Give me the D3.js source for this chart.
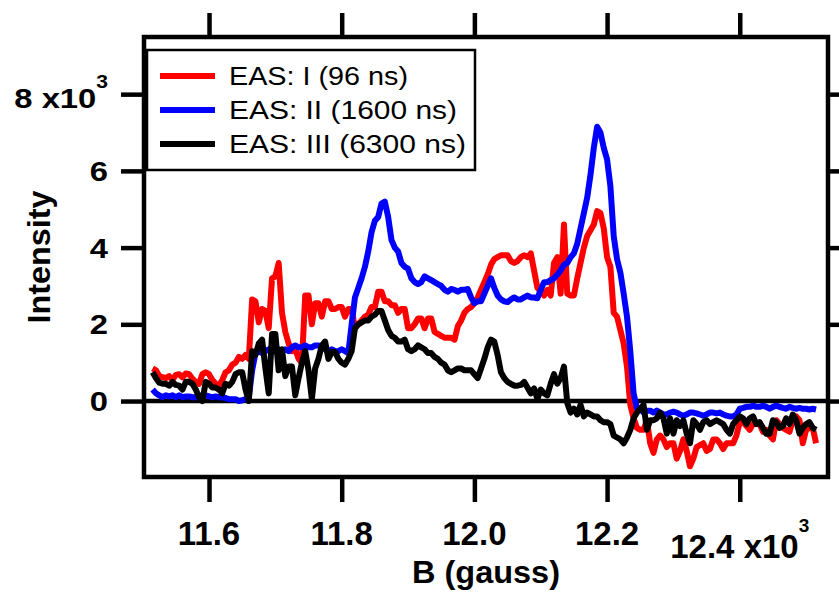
<!DOCTYPE html>
<html>
<head>
<meta charset="utf-8">
<script src="https://cdn.jsdelivr.net/npm/d3@7"></script>
<style>
  html, body { margin: 0; padding: 0; background: #fff; }
  svg { display: block; font-family: "Liberation Sans", Arial, Helvetica, sans-serif; }
</style>
</head>
<body>
<svg id="chart" width="839" height="593"></svg>
<script>
// field grid, in 10^3 gauss
const B0 = 11.515;
const dB = 0.005;

// intensities, in units of 10^3
const easI = [
    0.85, 0.8, 0.65, 0.62, 0.6, 0.65, 0.55, 0.68, 0.7, 0.62,
    0.72, 0.7, 0.58, 0.5, 0.45, 0.7, 0.75, 0.7, 0.55, 0.45,
    0.4, 0.55, 0.75, 0.8, 0.95, 1.0, 1.15, 1.1, 1.2, 1.1,
    2.65, 2.6, 2.05, 2.4, 2.35, 1.9, 3.2, 3.25, 3.6, 2.3,
    1.8, 1.5, 1.3, 1.35, 1.1, 1.0, 2.75, 2.75, 2.0, 2.55,
    2.55, 2.2, 2.6, 2.6, 2.4, 2.4, 2.45, 2.45, 2.2, 2.4,
    2.4, 1.9, 2.0, 2.1, 2.2, 2.25, 2.45, 2.45, 2.85, 2.85,
    2.6, 2.6, 2.5, 2.5, 2.3, 2.4, 2.4, 1.9, 1.9, 2.0,
    2.15, 2.15, 1.9, 2.15, 2.15, 1.8, 1.75, 1.7, 1.65, 1.65,
    1.65, 1.6, 1.95, 2.1, 2.3, 2.4, 2.45, 2.55, 2.7, 2.9,
    3.1, 3.3, 3.55, 3.7, 3.75, 3.8, 3.8, 3.8, 3.65, 3.6,
    3.65, 3.75, 3.8, 3.75, 3.85, 3.4, 2.95, 2.85, 2.75, 2.9,
    2.75, 3.6, 3.75, 2.8, 4.6, 2.8, 2.75, 2.75, 3.2, 3.6,
    4.0, 4.3, 4.45, 4.6, 4.95, 4.9, 4.5, 3.75, 3.5, 2.3,
    2.2, 1.85, 1.5, 0.9, -0.1, -0.45, -0.7, -0.75, -0.75, -0.5,
    -1.1, -1.35, -1.0, -0.9, -1.0, -1.2, -1.1, -1.1, -1.5, -1.3,
    -1.0, -1.3, -1.7, -1.5, -1.2, -1.15, -1.1, -1.3, -1.25, -1.0,
    -1.0, -1.1, -1.25, -1.1, -1.1, -1.1, -0.9, -0.55, -0.55, -0.65,
    -0.75, -0.6, -0.6, -0.6, -0.8, -0.75, -0.9, -1.0, -0.5, -0.6,
    -0.7, -0.75, -0.8, -0.5, -0.4, -0.5, -1.1, -0.75, -0.7, -0.7,
    -1.1
];
const easII = [
    0.3, 0.2, 0.15, 0.1, 0.15, 0.12, 0.15, 0.1, 0.15, 0.1,
    0.12, 0.12, 0.1, 0.1, 0.15, 0.12, 0.15, 0.12, 0.1, 0.12,
    0.1, 0.1, 0.08, 0.05, 0.05, 0.05, 0.0, 0.02, 0.05, 0.1,
    0.8, 1.25, 1.3, 1.25, 1.3, 1.35, 1.3, 1.3, 1.35, 1.3,
    1.35, 1.3, 1.4, 1.45, 1.4, 1.4, 1.45, 1.4, 1.4, 1.45,
    1.45, 1.4, 1.35, 1.3, 1.35, 1.3, 1.3, 1.35, 1.3, 1.25,
    2.0, 2.7, 2.95, 3.2, 3.5, 3.9, 4.4, 4.7, 4.8, 5.15,
    5.2, 4.8, 4.2, 4.0, 3.9, 3.6, 3.5, 3.45, 3.2, 3.1,
    3.05, 3.1, 3.25, 3.2, 3.15, 3.1, 3.05, 3.0, 2.9, 2.85,
    2.92, 2.9, 2.85, 2.9, 2.9, 2.92, 2.7, 2.55, 2.6, 2.6,
    2.8, 3.0, 3.2, 2.95, 2.75, 2.65, 2.6, 2.58, 2.65, 2.7,
    2.65, 2.65, 2.7, 2.75, 2.7, 2.7, 2.68, 2.9, 3.1, 3.1,
    3.15, 3.2, 3.3, 3.4, 3.55, 3.6, 3.75, 3.85, 4.1, 4.5,
    4.9, 5.3, 5.9, 6.6, 7.15, 7.0, 6.6, 6.3, 5.6, 4.3,
    3.7, 3.35, 2.8, 2.2, 1.3, 0.2, -0.2, -0.2, -0.3, -0.25,
    -0.25, -0.3, -0.25, -0.3, -0.35, -0.35, -0.3, -0.28, -0.3, -0.35,
    -0.38, -0.35, -0.3, -0.3, -0.32, -0.35, -0.38, -0.35, -0.3, -0.3,
    -0.32, -0.3, -0.35, -0.38, -0.4, -0.4, -0.35, -0.2, -0.18, -0.15,
    -0.15, -0.12, -0.15, -0.15, -0.12, -0.15, -0.2, -0.15, -0.12, -0.15,
    -0.18, -0.2, -0.15, -0.18, -0.2, -0.18, -0.2, -0.2, -0.22, -0.2,
    -0.22
];
const easIII = [
    0.75, 0.6, 0.48, 0.45, 0.45, 0.4, 0.5, 0.42, 0.4, 0.3,
    0.5, 0.5, 0.45, 0.3, 0.1, 0.0, 0.5, 0.45, 0.35, 0.35,
    0.3, 0.2, 0.45, 0.4, 0.5, 0.7, 0.75, 0.75, 0.3, 0.0,
    1.3, 1.2, 1.5, 1.6, 0.85, 0.2, 1.75, 1.75, 0.8, 1.35,
    0.65, 0.9, 0.9, 0.15, 0.6, 1.0, 1.3, 0.8, 0.05, 0.85,
    1.1, 1.45, 1.55, 1.1, 1.28, 1.28, 1.1, 1.0, 0.95, 1.1,
    1.3, 1.9, 2.0, 2.05, 2.1, 2.1, 2.2, 2.25, 2.35, 2.35,
    2.1, 1.85, 1.7, 1.65, 1.55, 1.55, 1.6, 1.35, 1.3, 1.35,
    1.45, 1.4, 1.35, 1.25, 1.25, 1.15, 1.1, 1.0, 0.95, 0.8,
    0.75, 0.8, 0.85, 0.85, 0.8, 0.8, 0.8, 0.7, 0.6, 0.85,
    1.1, 1.4, 1.6, 1.55, 1.2, 0.75, 0.6, 0.5, 0.45, 0.4,
    0.4, 0.42, 0.5, 0.35, 0.2, 0.33, 0.05, 0.3, 0.2, 0.15,
    0.45, 0.7, 0.45, 0.6, 0.9, -0.05, -0.3, -0.2, -0.35, -0.1,
    -0.4, -0.3, -0.35, -0.4, -0.4, -0.5, -0.55, -0.55, -0.6, -0.9,
    -0.95, -1.0, -1.1, -0.95, -0.75, -0.45, -0.3, -0.2, -0.1, -0.75,
    -0.5, -0.5, -0.45, -0.3, -0.45, -0.85, -0.45, -0.85, -0.5, -0.65,
    -0.5, -0.85, -1.1, -0.5, -0.6, -0.75, -0.55, -0.5, -0.6, -0.55,
    -0.5, -0.55, -0.6, -0.75, -0.85, -0.6, -0.5, -0.4, -0.45, -0.6,
    -0.45, -0.4, -0.6, -0.55, -0.7, -0.85, -0.85, -0.5, -0.55, -0.7,
    -0.65, -0.45, -0.6, -0.35, -0.5, -0.85, -0.7, -0.6, -0.55, -0.7,
    -0.75
];

const seriesNames = ["EAS: I (96 ns)", "EAS: II (1600 ns)", "EAS: III (6300 ns)"];
const seriesColors = ["#ff0000", "#0000ff", "#000000"];

const xTicks = [11.6, 11.8, 12.0, 12.2, 12.4];
const xTickLabels = ["11.6", "11.8", "12.0", "12.2", "12.4"];
const yTicks = [0, 2, 4, 6, 8];
const yTickLabels = ["0", "2", "4", "6", "8"];

(function() {
    const left = 144, right = 828, top = 37, bottom = 477;

    const svg = d3.select("#chart");

    const x = d3.scaleLinear().domain([11.502, 12.533]).range([left, right]);
    const y = d3.scaleLinear().domain([-1.98, 9.49]).range([bottom, top]);

    const field = easI.map((_, i) => +(B0 + i * dB).toFixed(3));
    const series = [easI, easII, easIII];

    svg.append("defs").append("clipPath")
        .attr("id", "plotClip")
        .append("rect")
        .attr("x", left).attr("y", top)
        .attr("width", right - left).attr("height", bottom - top);

    // ticks on all four sides, outside the frame
    function styleTicks(g) {
        g.select(".domain").remove();
        g.selectAll(".tick line").attr("stroke", "#000").attr("stroke-width", 4.5);
        g.selectAll(".tick text").remove();
    }
    svg.append("g")
        .attr("transform", `translate(0,${bottom})`)
        .call(d3.axisBottom(x).tickValues(xTicks).tickSize(25).tickFormat(""))
        .call(styleTicks);
    svg.append("g")
        .attr("transform", `translate(0,${top})`)
        .call(d3.axisTop(x).tickValues(xTicks).tickSize(24).tickFormat(""))
        .call(styleTicks);
    svg.append("g")
        .attr("transform", `translate(${left},0)`)
        .call(d3.axisLeft(y).tickValues(yTicks).tickSize(23).tickFormat(""))
        .call(styleTicks);
    svg.append("g")
        .attr("transform", `translate(${right},0)`)
        .call(d3.axisRight(y).tickValues(yTicks).tickSize(23).tickFormat(""))
        .call(styleTicks);

    // zero line
    svg.append("line")
        .attr("x1", left).attr("x2", right)
        .attr("y1", y(0)).attr("y2", y(0))
        .attr("stroke", "#000")
        .attr("stroke-width", 4.5);

    const line = d3.line()
        .x((d, i) => x(field[i]))
        .y(d => y(d));

    svg.append("g")
        .attr("clip-path", "url(#plotClip)")
        .selectAll("path")
        .data(series)
        .enter().append("path")
        .attr("d", line)
        .attr("fill", "none")
        .attr("stroke", (d, i) => seriesColors[i])
        .attr("stroke-width", 6)
        .attr("stroke-linejoin", "round");

    // frame
    svg.append("rect")
        .attr("x", left).attr("y", top)
        .attr("width", right - left).attr("height", bottom - top)
        .attr("fill", "none")
        .attr("stroke", "#000")
        .attr("stroke-width", 4.5);

    // tick labels, last one carries the x10^3 multiplier
    const xLab = svg.append("g")
        .attr("font-size", 33)
        .attr("font-weight", "bold")
        .attr("text-anchor", "middle");
    xTicks.forEach((v, i) => {
        const last = i === xTicks.length - 1;
        const t = xLab.append("text")
            .attr("x", x(v))
            .attr("y", last ? 558 : 545);
        t.append("tspan").text(xTickLabels[i] + (last ? " x10" : ""));
        if (last) {
            t.append("tspan").attr("font-size", 19).attr("dy", -26).text("3");
        }
    });

    const yLab = svg.append("g")
        .attr("font-size", 28)
        .attr("font-weight", "bold")
        .attr("text-anchor", "end");
    yTicks.forEach((v, i) => {
        const last = i === yTicks.length - 1;
        const t = yLab.append("text")
            .attr("transform", `translate(108,${y(v) + (last ? 14 : 10)}) scale(1.17,1)`);
        t.append("tspan").text(yTickLabels[i] + (last ? " x10" : ""));
        if (last) {
            t.append("tspan").attr("font-size", 18).attr("dy", -20).text("3");
        }
    });

    // axis titles
    svg.append("text")
        .attr("transform", `translate(50,${(top + bottom) / 2}) rotate(-90)`)
        .attr("text-anchor", "middle")
        .attr("font-size", 31)
        .attr("font-weight", "bold")
        .attr("textLength", 133)
        .attr("lengthAdjust", "spacingAndGlyphs")
        .text("Intensity");

    svg.append("text")
        .attr("x", (left + right) / 2)
        .attr("y", 583)
        .attr("text-anchor", "middle")
        .attr("font-size", 31)
        .attr("font-weight", "bold")
        .attr("textLength", 148)
        .attr("lengthAdjust", "spacingAndGlyphs")
        .text("B (gauss)");

    // legend
    const legendWidths = [179, 228, 237];
    const legend = svg.append("g");
    legend.append("rect")
        .attr("x", 147).attr("y", 50)
        .attr("width", 328).attr("height", 120)
        .attr("fill", "#fff")
        .attr("stroke", "#000")
        .attr("stroke-width", 2.5);

    const rows = legend.selectAll("g.row")
        .data(seriesNames)
        .enter().append("g")
        .attr("class", "row")
        .attr("transform", (d, i) => `translate(0,${76 + i * 34})`);

    rows.append("line")
        .attr("x1", 160).attr("x2", 215)
        .attr("stroke", (d, i) => seriesColors[i])
        .attr("stroke-width", 6);

    rows.append("text")
        .attr("x", 229)
        .attr("y", 9)
        .attr("font-size", 26)
        .attr("textLength", (d, i) => legendWidths[i])
        .attr("lengthAdjust", "spacingAndGlyphs")
        .text(d => d);
})();
</script>
</body>
</html>
